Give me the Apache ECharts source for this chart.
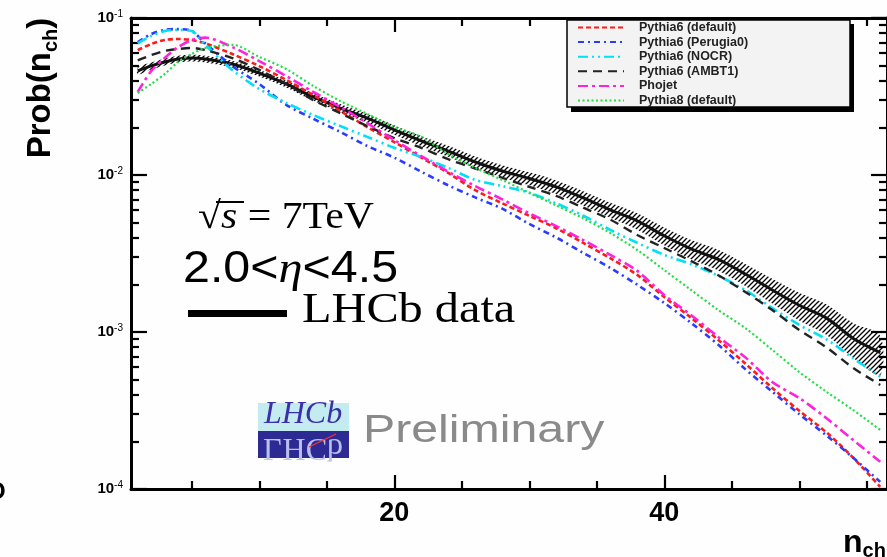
<!DOCTYPE html>
<html><head><meta charset="utf-8">
<script src="https://cdn.jsdelivr.net/npm/echarts@6/dist/echarts.min.js"></script>
<style>html,body{margin:0;padding:0;background:#fff}#c{width:887px;height:557px}</style>
</head><body><div id="c"></div>
<script>
// ---- data ----
const nch = [1,2,3,4,5,6,8,10,12,14,16,18,20,22,24,26,28,30,32,34,36,38,40,42,44,46,48,50,52,54,56];
const lhcbData = [0.046,0.0495,0.0525,0.0548,0.0556,0.0548,0.0509,0.0446,0.038,0.0314,0.0267,0.023,0.0194,0.0165,0.0142,0.0121,0.0106,0.0095,0.0084,0.00714,0.006,0.0051,0.0041,0.00338,0.0029,0.00234,0.00185,0.00148,0.00123,0.00091,0.00074];
const lhcbErrFrac = [0.05,0.05,0.05,0.05,0.05,0.05,0.05,0.05,0.05,0.055,0.06,0.065,0.07,0.075,0.08,0.085,0.09,0.095,0.10,0.105,0.11,0.12,0.13,0.14,0.15,0.16,0.18,0.2,0.22,0.25,0.28];
const pythia6Default = [0.0625,0.0683,0.0724,0.0735,0.0724,0.069,0.059,0.0494,0.0403,0.0323,0.0256,0.0202,0.0162,0.0129,0.0103,0.008,0.0066,0.0055,0.00458,0.00369,0.00295,0.00231,0.00167,0.00123,0.00089,0.00063,0.00044,0.000315,0.00023,0.000158,0.000103];
const pythia6Perugia0 = [0.0703,0.079,0.084,0.085,0.0826,0.069,0.0494,0.038,0.028,0.0228,0.0188,0.0153,0.0129,0.0105,0.0086,0.0072,0.0061,0.00488,0.004,0.00319,0.00256,0.002,0.00153,0.00114,0.00083,0.00058,0.000417,0.0003,0.00022,0.000158,0.000111];
const pythia6Nocr = [0.069,0.0768,0.0826,0.084,0.0826,0.0673,0.0467,0.0353,0.0288,0.0241,0.0205,0.0175,0.0149,0.013,0.0111,0.0093,0.0085,0.0077,0.0066,0.0055,0.00447,0.0037,0.0031,0.0027,0.00228,0.00185,0.00142,0.00111,0.0009,0.00068,0.00052];
const pythia6Ambt1 = [0.0537,0.058,0.0617,0.0635,0.0644,0.0625,0.0556,0.0467,0.038,0.030,0.0248,0.0205,0.0172,0.0149,0.0126,0.011,0.0096,0.0084,0.00735,0.0062,0.0052,0.00415,0.00343,0.00283,0.0023,0.0018,0.00138,0.00103,0.0008,0.00059,0.00046];
const phojet = [0.0338,0.046,0.0556,0.0653,0.0724,0.075,0.0653,0.0532,0.0427,0.0338,0.0271,0.0214,0.0167,0.0132,0.0105,0.0085,0.007,0.0057,0.00473,0.00385,0.0031,0.00245,0.00172,0.00128,0.00093,0.00069,0.00048,0.00038,0.000283,0.000205,0.000149];
const pythia8Default = [0.0333,0.038,0.044,0.0525,0.059,0.0644,0.0675,0.0565,0.0473,0.0369,0.0296,0.0245,0.0202,0.0175,0.0136,0.0111,0.0093,0.0077,0.0064,0.0053,0.00427,0.00333,0.00248,0.00185,0.00138,0.00106,0.00077,0.000556,0.000417,0.000318,0.000238];
const seriesNames = ['Pythia6 (default)','Pythia6 (Perugia0)','Pythia6 (NOCR)','Pythia6 (AMBT1)','Phojet','Pythia8 (default)'];
const xMajorTicks = [20,40];
const xMinorTicks = [5,10,15,25,30,35,45,50,55];
const yMinorTicks = [2e-4,3e-4,4e-4,5e-4,6e-4,7e-4,8e-4,9e-4,2e-3,3e-3,4e-3,5e-3,6e-3,7e-3,8e-3,9e-3,2e-2,3e-2,4e-2,5e-2,6e-2,7e-2,8e-2,9e-2];

// ---- chart ----
const chart = echarts.init(document.getElementById('c'));
const pat = document.createElement('canvas'); pat.width = 5; pat.height = 5;
const pg = pat.getContext('2d'); pg.strokeStyle = '#000'; pg.lineWidth = 1.3;
pg.beginPath(); pg.moveTo(0,5); pg.lineTo(5,0); pg.moveTo(-1,1); pg.lineTo(1,-1); pg.moveTo(4,6); pg.lineTo(6,4); pg.stroke();

const xy = arr => nch.map((n,i)=>[n, arr[i]]);
const SANS = 'Liberation Sans, Arial, sans-serif';
const SERIF = 'Liberation Serif, Times New Roman, serif';
const axisCol = '#000';
const gridBox = {left:131, top:18, width:759, height:471};

function xAx(grid, pos, ticks, len, labels){
  return {type:'value', gridIndex:grid, position:pos, min:0.5, max:56.5,
    axisLine:{show: grid===0, lineStyle:{color:axisCol, width:3}},
    axisTick:{inside:true, length:len, customValues:ticks, lineStyle:{color:axisCol, width:2.2}},
    axisLabel: labels ? {customValues:ticks, color:'#000', fontSize:27, fontWeight:'bold', fontFamily:SANS, margin:11} : {show:false},
    splitLine:{show:false}};
}
function yAx(grid, pos, len, custom, labels){
  const t = {inside:true, length:len, lineStyle:{color:axisCol, width:2.2}};
  if (custom) t.customValues = custom;
  return {type:'log', logBase:10, gridIndex:grid, position:pos, min:1e-4, max:1e-1,
    axisLine:{show: grid===0, lineStyle:{color:axisCol, width:3}},
    axisTick:t,
    axisLabel: labels ? {margin:8, formatter: v => '{a|10}{b|' + Math.round(Math.log10(v)) + '}',
       rich:{a:{fontSize:15, fontFamily:SANS, color:'#000', fontWeight:'bold'}, b:{fontSize:10, fontFamily:SANS, color:'#000', verticalAlign:'top', padding:[0,0,8,0]}}} : {show:false},
    splitLine:{show:false}};
}

function modelSeries(name, arr, color, dash, width){
  return {name, type:'line', data:xy(arr), xAxisIndex:0, yAxisIndex:0, symbol:'none', smooth:0.3,
    lineStyle:{color, width, type:dash}, itemStyle:{color}, z:3};
}

const option = {
  backgroundColor:'#fefefe',
  animation:false,
  grid:[Object.assign({}, gridBox), Object.assign({}, gridBox)],
  xAxis:[ xAx(0,'bottom',xMajorTicks,14,true), xAx(0,'top',xMajorTicks,14,false),
          xAx(1,'bottom',xMinorTicks,8,false), xAx(1,'top',xMinorTicks,8,false) ],
  yAxis:[ yAx(0,'left',16,null,true), yAx(0,'right',16,null,false),
          yAx(1,'left',8,yMinorTicks,false), yAx(1,'right',8,yMinorTicks,false) ],
  legend:{
    data:seriesNames, orient:'vertical', left:574, top:21, padding:[0,0,0,3],
    itemWidth:46, itemHeight:10, itemGap:1.6, z:10,
    itemStyle:{color:'rgba(0,0,0,0)', borderWidth:0, opacity:0},
    textStyle:{fontSize:12.5, fontWeight:'bold', fontFamily:SANS, color:'#222', padding:[0,0,0,10]}
  },
  series:[
    {type:'custom', name:'band', xAxisIndex:0, yAxisIndex:0, clip:true, z:2,
     data:[[nch[0], lhcbData[0]]],
     renderItem:(params, api) => {
       const up = nch.map((n,i)=>api.coord([n, lhcbData[i]*(1+lhcbErrFrac[i])]));
       const dn = nch.map((n,i)=>api.coord([n, lhcbData[i]*(1-lhcbErrFrac[i])])).reverse();
       return {type:'polygon', shape:{points:up.concat(dn), smooth:0.3}, style:{fill:{image:pat, repeat:'repeat'}, stroke:null}};
     }},
    {name:'LHCb data', type:'line', data:xy(lhcbData), symbol:'none', smooth:0.3, lineStyle:{color:'#111', width:3}, z:2},
    modelSeries(seriesNames[0], pythia6Default, '#ff1a1a', [5,3], 2.6),
    modelSeries(seriesNames[1], pythia6Perugia0, '#2a3cff', [6,4,2,4], 2.6),
    modelSeries(seriesNames[2], pythia6Nocr, '#00e1f5', [10,4,2,4,2,4], 2.6),
    modelSeries(seriesNames[3], pythia6Ambt1, '#222222', [9,6], 2.4),
    modelSeries(seriesNames[4], phojet, '#ff22dd', [10,4,3,4], 2.6),
    modelSeries(seriesNames[5], pythia8Default, '#22dd44', [2,2.5], 2.2)
  ],
  graphic:[
    {type:'rect', z:1, shape:{x:571, y:24, width:283, height:88}, style:{fill:'#000'}},
    {type:'rect', z:2, shape:{x:567, y:20, width:283, height:87}, style:{fill:'#f3f3f3', stroke:'#000', lineWidth:1.5}},
    // y title
    {type:'text', z:5, x:41, y:88, rotation:Math.PI/2,
     style:{text:'{m|Prob(n}{s|ch}{m|)}', align:'center', verticalAlign:'middle',
       rich:{m:{font:'bold 33px '+SANS, fill:'#000', lineHeight:40, verticalAlign:'middle'}, s:{font:'bold 20px '+SANS, fill:'#000', verticalAlign:'bottom', lineHeight:40}}}},
    // x title
    {type:'text', z:5, x:843, y:543,
     style:{text:'{m|n}{s|ch}', align:'left', verticalAlign:'middle',
       rich:{m:{font:'bold 32px '+SANS, fill:'#000', lineHeight:36}, s:{font:'bold 20px '+SANS, fill:'#000', verticalAlign:'bottom', lineHeight:36}}}},
    {type:'text', z:5, x:-13, y:492, style:{text:'O', font:'bold 24px '+SANS, fill:'#000', verticalAlign:'middle'}},
    // annotations
    {type:'text', z:5, x:198, y:218, scaleX:1.1,
     style:{text:'{r|√}{i|s}{r| = 7TeV}', verticalAlign:'middle',
       rich:{r:{font:'38px '+SERIF, fill:'#000'}, i:{font:'italic 38px '+SERIF, fill:'#000'}}}},
    {type:'rect', z:5, shape:{x:216, y:201, width:28, height:2}, style:{fill:'#000'}},
    {type:'text', z:5, x:183, y:270, scaleX:1.1,
     style:{text:'{a|2.0<}{e|η}{a|<4.5}', verticalAlign:'middle',
       rich:{a:{font:'44px '+SANS, fill:'#000'}, e:{font:'italic 44px '+SERIF, fill:'#000'}}}},
    {type:'rect', z:5, shape:{x:188, y:310, width:99, height:7}, style:{fill:'#000'}},
    {type:'text', z:5, x:302, y:311, scaleX:1.15, style:{text:'LHCb data', font:'42px '+SERIF, fill:'#000', verticalAlign:'middle'}},
    // logo
    {type:'rect', z:5, shape:{x:258, y:403, width:91, height:28}, style:{fill:'#c4ecf0'}},
    {type:'rect', z:5, shape:{x:258, y:431, width:91, height:27}, style:{fill:'#2e2a94'}},
    {type:'text', z:6, x:303, y:431, style:{text:'LHCb', font:'italic 32px '+SERIF, fill:'#3a30a8', align:'center', verticalAlign:'bottom'}},
    {type:'text', z:6, x:303, y:431, scaleY:-1, style:{text:'LHCb', font:'32px '+SERIF, fill:'#b8c0ee', align:'center', verticalAlign:'bottom'}},
    {type:'line', z:7, shape:{x1:309, y1:447, x2:336, y2:434}, style:{stroke:'#ff3030', lineWidth:1.2}},
    {type:'text', z:5, x:363, y:432, scaleX:1.27, style:{text:'Preliminary', font:'38px '+SANS, fill:'#8a8a8a', verticalAlign:'middle'}}
  ]
};
chart.setOption(option);
</script></body></html>
